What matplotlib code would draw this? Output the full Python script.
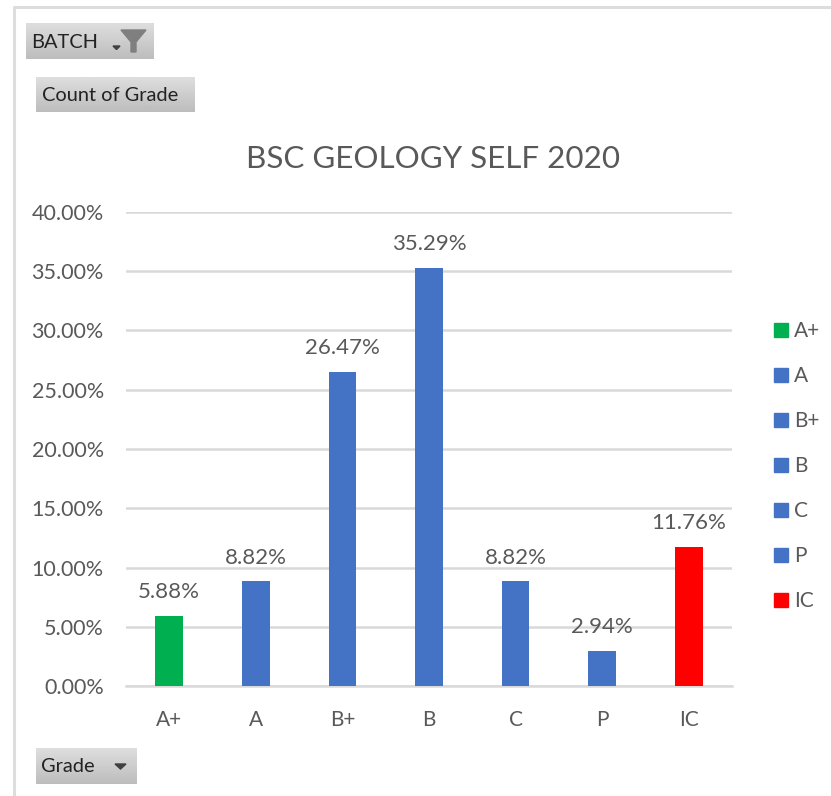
import matplotlib
matplotlib.use('Agg')
import matplotlib.pyplot as plt
from matplotlib.lines import Line2D
from matplotlib.patches import Polygon
import numpy as np

W, H = 831, 796

grades = ['A+', 'A', 'B+', 'B', 'C', 'P', 'IC']
values = [5.88, 8.82, 26.47, 35.29, 8.82, 2.94, 11.76]
bar_colors = ['#00B050', '#4472C4', '#4472C4', '#4472C4', '#4472C4', '#4472C4', '#FF0000']
yticks = [0, 5, 10, 15, 20, 25, 30, 35, 40]

plt.rcParams['font.family'] = ['Lato', 'DejaVu Sans']
text_col = '#595959'
grid_col = '#D9D9D9'

fig = plt.figure(figsize=(W / 100, H / 100), dpi=100)

# full figure overlay in pixel coords, for the pivot buttons and the frame
bg = fig.add_axes([0, 0, 1, 1])
bg.set_xlim(0, W)
bg.set_ylim(H, 0)
bg.axis('off')

bg.plot([14, 14, W], [H, 7, 7], color='#DDDDDD', lw=2.2, solid_capstyle='butt')

def button(x0, y0, x1, y1, label, tx):
    grad = np.linspace(0.87, 0.74, 40).reshape(-1, 1)
    bg.imshow(grad, extent=[x0, x1, y1, y0], cmap='gray', vmin=0, vmax=1, aspect='auto', zorder=2)
    bg.text(tx, (y0 + y1) / 2 + 1, label, fontsize=14.4, color='#222222', va='center', ha='left', zorder=3)

button(26, 23, 154, 59, 'BATCH', 31)
button(36, 77, 195, 112, 'Count of Grade', 42)
button(36, 748, 137, 784, 'Grade', 41)
bg.set_xlim(0, W)
bg.set_ylim(H, 0)

# filter icon and dropdown arrows
bg.add_patch(Polygon([[121, 30], [146, 30], [136, 42], [136, 52], [131, 52], [131, 42]], color='#7F7F7F', zorder=3))
bg.add_patch(Polygon([[113, 46], [120, 46], [116.5, 49.5]], color='#404040', zorder=3))
bg.add_patch(Polygon([[115, 764], [126, 764], [120.5, 769]], color='#404040', zorder=3))

ax = fig.add_axes([126 / W, 1 - 686 / H, 606 / W, 474 / H])
ax.patch.set_alpha(0)
x = np.arange(len(grades))
bars = ax.bar(x, values, width=0.32, color=bar_colors, zorder=3)
ax.set_xlim(-0.5, 6.5)
ax.set_ylim(0, 40)
ax.set_yticks(yticks)
ax.set_yticklabels(['%.2f%%' % v for v in yticks])
ax.set_xticks(x)
ax.set_xticklabels(grades)
ax.grid(axis='y', color=grid_col, lw=1.8, zorder=0)
ax.set_axisbelow(True)
for s in ['top', 'right', 'left']:
    ax.spines[s].set_visible(False)
ax.spines['bottom'].set_color(grid_col)
ax.spines['bottom'].set_linewidth(1.8)
ax.tick_params(axis='both', length=0, colors=text_col)
ax.tick_params(axis='y', labelsize=15.5, pad=16)
ax.tick_params(axis='x', labelsize=15, pad=17.5)

for b, v in zip(bars, values):
    ax.annotate('%.2f%%' % v, (b.get_x() + b.get_width() / 2, v), xytext=(0, 10),
                textcoords='offset points', ha='center', va='bottom', fontsize=16, color=text_col)

fig.text(433 / W, 1 - 159 / H, 'BSC GEOLOGY SELF 2020', fontsize=22.6, color=text_col, ha='center', va='center')

handles = [Line2D([], [], ls='none', marker='s', ms=9.5, color=c) for c in bar_colors]
ax.legend(handles, grades, loc='center left', bbox_to_anchor=(773 / W, 1 - 466 / H),
          bbox_transform=fig.transFigure, frameon=False, fontsize=15, labelcolor=text_col,
          handlelength=0.8, handletextpad=0.2, labelspacing=1.2, borderpad=0, borderaxespad=0)

fig.savefig('out.png', dpi=100)
